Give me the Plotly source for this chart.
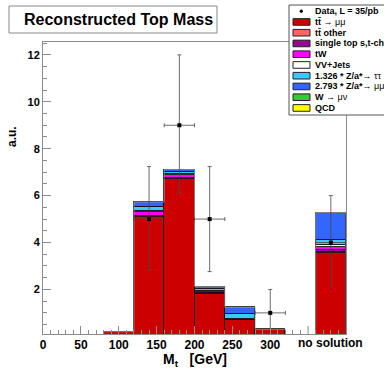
import plotly.graph_objects as go

# ---- data ----
bin_lo = [80, 120, 160, 200, 240, 280, 360]
bin_hi = [120, 160, 200, 240, 280, 320, 400]
tt_mumu    = [0.20, 5.11, 6.69, 1.81, 0.70, 0.30, 3.57]
tt_other   = [0.00, 0.01, 0.01, 0.00, 0.00, 0.00, 0.01]
single_top = [0.00, 0.03, 0.04, 0.05, 0.02, 0.00, 0.11]
tW         = [0.00, 0.15, 0.12, 0.05, 0.01, 0.00, 0.13]
vv_jets    = [0.00, 0.06, 0.06, 0.04, 0.01, 0.00, 0.09]
z_tautau   = [0.00, 0.15, 0.07, 0.07, 0.21, 0.00, 0.18]
z_mumu     = [0.00, 0.22, 0.12, 0.10, 0.29, 0.00, 1.19]
w_munu     = [0.00, 0.00, 0.00, 0.00, 0.00, 0.00, 0.00]
qcd        = [0.00, 0.00, 0.00, 0.00, 0.00, 0.00, 0.00]

data_x = [140, 180, 220, 300, 380]
data_y = [5, 9, 5, 1, 4]
data_err = [2.24, 3.0, 2.24, 1.0, 2.0]
data_xerr = [20, 20, 20, 20, 20]

x_ticks = [0, 50, 100, 150, 200, 250, 300]
x_ticktext = ["0", "50", "100", "150", "200", "250", "300"]
y_ticks = [2, 4, 6, 8, 10, 12]

layers = [
    ("tt̄ → μμ", tt_mumu, "#cc0000"),
    ("tt̄ other", tt_other, "#ff6464"),
    ("single top s,t-ch", single_top, "#990099"),
    ("tW", tW, "#ff00ff"),
    ("VV+Jets", vv_jets, "#ffffff"),
    ("1.326 * Z/a*→ ττ", z_tautau, "#33ccff"),
    ("2.793 * Z/a*→ μμ", z_mumu, "#3366ff"),
    ("W → μν", w_munu, "#33cc33"),
    ("QCD", qcd, "#ffff00"),
]

centers = [(a + b) / 2 for a, b in zip(bin_lo, bin_hi)]
widths = [b - a for a, b in zip(bin_lo, bin_hi)]

fig = go.Figure()
for name, vals, col in layers:
    fig.add_trace(go.Bar(
        x=centers, y=[v if v > 0 else None for v in vals], width=widths,
        marker=dict(color=col, line=dict(color="rgba(20,0,0,0.85)", width=1)),
        name=name, showlegend=False,
    ))

# total outline (gray)
totals = [sum(l[1][i] for l in layers) for i in range(len(bin_lo))]
ox, oy = [], []
for i, (a, b) in enumerate(zip(bin_lo, bin_hi)):
    if i > 0 and bin_lo[i] != bin_hi[i - 1]:
        ox.append(None); oy.append(None)
    if i == 0 or bin_lo[i] != bin_hi[i - 1]:
        ox += [a]; oy += [0]
    ox += [a, b]; oy += [totals[i], totals[i]]
    if i == len(bin_lo) - 1 or bin_lo[i + 1] != b:
        ox += [b]; oy += [0]
fig.add_trace(go.Scatter(x=ox, y=oy, mode="lines", line=dict(color="rgba(150,150,150,0.8)", width=1),
                         showlegend=False, hoverinfo="skip"))

fig.add_trace(go.Scatter(
    x=data_x, y=data_y, mode="markers",
    marker=dict(color="black", size=4, symbol="square"),
    error_y=dict(type="data", array=data_err, color="rgba(70,70,70,0.8)", thickness=1, width=2),
    error_x=dict(type="data", array=data_xerr, color="rgba(70,70,70,0.8)", thickness=1, width=2),
    showlegend=False, name="Data",
))

L, R, T, B = 43, 346, 42, 334
W, H = 384, 368


def PX(px):
    return (px - L) / (R - L)


def PY(py):
    return (B - py) / (B - T)


axcol = "#8c8c8c"
fnt = "Liberation Sans, Arial, sans-serif"

minor_x = [v for v in range(0, 401, 10) if v % 50 != 0]
minor_y = [v / 2 for v in range(1, 26) if v % 4 != 0]

fig.update_layout(
    width=W, height=H, barmode="stack", bargap=0,
    margin=dict(l=L, r=W - R, t=T, b=H - B),
    paper_bgcolor="white", plot_bgcolor="white",
    xaxis=dict(range=[0, 400], tickmode="array", tickvals=x_ticks, ticktext=x_ticktext,
               ticks="inside", ticklen=8, tickcolor=axcol, tickwidth=1,
               showline=True, linecolor=axcol, linewidth=1, mirror=True,
               showgrid=False, zeroline=False,
               tickfont=dict(family=fnt, size=12, color="black", weight="bold"),
               minor=dict(tickmode="array", tickvals=minor_x, ticks="inside", ticklen=4,
                          tickcolor=axcol, showgrid=False)),
    yaxis=dict(range=[0.1, 12.55], tickmode="array", tickvals=y_ticks,
               ticks="inside", ticklen=8, tickcolor=axcol, tickwidth=1,
               showline=True, linecolor=axcol, linewidth=1, mirror=True,
               showgrid=False, zeroline=False,
               tickfont=dict(family=fnt, size=11, color="black", weight="bold"),
               minor=dict(tickmode="array", tickvals=minor_y, ticks="inside", ticklen=4,
                          tickcolor=axcol, showgrid=False)),
)

shapes = []
ann = []
# unlabeled major tick at 350
shapes.append(dict(type="line", xref="x", yref="paper", x0=350, x1=350, y0=0, y1=8 / (B - T),
                   line=dict(color=axcol, width=1)))
# title box
shapes.append(dict(type="rect", xref="paper", yref="paper", x0=PX(9), x1=PX(217), y0=PY(33), y1=PY(6),
                   line=dict(color="#888888", width=1), fillcolor="white", layer="above"))
ann.append(dict(text="<b>Reconstructed Top Mass</b>", xref="paper", yref="paper", x=PX(118), y=PY(19.5),
                xanchor="center", yanchor="middle", showarrow=False,
                font=dict(family=fnt, size=16, color="black")))

# axis titles
ann.append(dict(text="<b>M<sub>t</sub>\u00a0\u00a0\u00a0[GeV]</b>", xref="paper", yref="paper",
                x=PX(195), y=PY(359.5), xanchor="center", yanchor="middle", showarrow=False,
                font=dict(family=fnt, size=14, color="black")))
ann.append(dict(text="<b>a.u.</b>", xref="paper", yref="paper", x=PX(12), y=PY(137), textangle=-90,
                xanchor="center", yanchor="middle", showarrow=False,
                font=dict(family=fnt, size=12, color="black")))
ann.append(dict(text="<b>no solution</b>", xref="x", yref="paper", x=380, y=PY(343),
                xanchor="center", yanchor="middle", showarrow=False,
                font=dict(family=fnt, size=12, color="black")))

# legend
shapes.append(dict(type="rect", xref="paper", yref="paper", x0=PX(289), x1=PX(420), y0=PY(115), y1=PY(5),
                   line=dict(color="#555555", width=1), fillcolor="white", layer="above"))
entries = [("<b>Data, L = 35/pb</b>", None)] + [
    (("<b>tt̄</b> → μμ" if nm.startswith("tt̄ →") else
      "<b>tt̄ other</b>" if nm == "tt̄ other" else
      "<b>1.326 * Z/a*</b>→ ττ" if nm.startswith("1.326") else
      "<b>2.793 * Z/a*</b>→ μμ" if nm.startswith("2.793") else
      "<b>W</b> → μν" if nm.startswith("W") else
      "<b>%s</b>" % nm), col) for nm, _, col in layers]
for i, (txt, col) in enumerate(entries):
    yc = 11.2 + 10.75 * i
    if col is None:
        shapes.append(dict(type="circle", xref="paper", yref="paper", x0=PX(300), x1=PX(302.5),
                           y0=PY(yc + 1.25), y1=PY(yc - 1.25), fillcolor="black",
                           line=dict(color="black", width=1), layer="above"))
    else:
        shapes.append(dict(type="rect", xref="paper", yref="paper", x0=PX(293), x1=PX(310),
                           y0=PY(yc + 3.3), y1=PY(yc - 3.3), fillcolor=col,
                           line=dict(color="#222222", width=1), layer="above"))
    ann.append(dict(text=txt, xref="paper", yref="paper", x=PX(312.5), y=PY(yc),
                    xanchor="left", yanchor="middle", showarrow=False,
                    font=dict(family=fnt, size=9, color="black")))

fig.update_layout(shapes=shapes, annotations=ann)
fig.write_html("out.html")
